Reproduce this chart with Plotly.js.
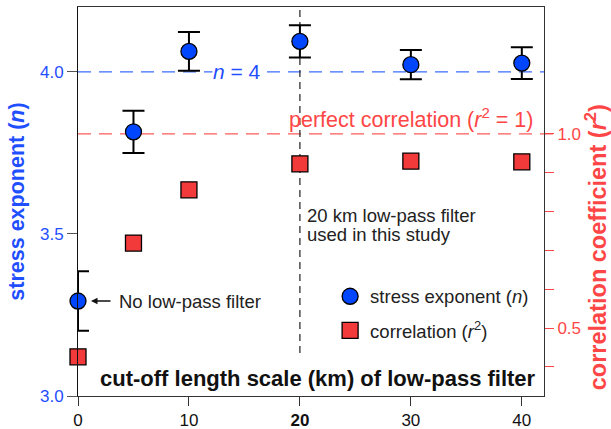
<!DOCTYPE html>
<html><head><meta charset="utf-8">
<script src="https://cdn.plot.ly/plotly-3.0.1.min.js"></script>
<style>html,body{margin:0;padding:0;background:#fff}</style>
</head><body><div id="chart" style="width:611px;height:429px"></div>
<script>
const cutoff = [0, 5, 10, 20, 30, 40];
const stressExponent = [3.293, 3.815, 4.063, 4.094, 4.022, 4.027];
const stressError = [0.092, 0.065, 0.06, 0.05, 0.045, 0.049];
const correlation = [0.426, 0.719, 0.856, 0.923, 0.93, 0.928];
const xTickVals = [0, 10, 20, 30, 40];
const xTickText = ['0', '10', '<b>20</b>', '30', '40'];
const yTickVals = [3.0, 3.5, 4.0];
const y2TickVals = [0.4, 0.5, 0.6, 0.7, 0.8, 0.9, 1.0];
const y2TickText = ['', '0.5', '', '', '', '', '1.0'];

const FONT = 'Liberation Sans, Arial, sans-serif';
const BLUE = '#1f4fff';
const RED = '#ff4646';

const traces = [
  {
    x: cutoff, y: correlation, yaxis: 'y2', type: 'scatter', mode: 'markers',
    name: 'correlation (<i>r</i><sup>2</sup>)', legendgroup: 'b', legendrank: 2,
    marker: {symbol: 'square', size: 16, color: '#f23a3a', line: {color: '#000', width: 1.3}},
    cliponaxis: false
  },
  {
    x: cutoff, y: stressExponent, type: 'scatter', mode: 'markers',
    name: 'stress exponent (<i>n</i>)', legendgroup: 'a', legendrank: 1,
    marker: {symbol: 'circle', size: 16, color: '#0046ff', line: {color: '#000', width: 1.3}},
    error_y: {type: 'data', array: stressError, visible: true, color: '#000', thickness: 2, width: 11},
    cliponaxis: false
  }
];

const layout = {
  width: 611, height: 429,
  margin: {l: 78, r: 67, t: 7, b: 33},
  paper_bgcolor: '#fff', plot_bgcolor: '#fff',
  font: {family: FONT, size: 15, color: '#222'},
  showlegend: true,
  legend: {
    x: 0.541, y: 0.304, xanchor: 'left', yanchor: 'top',
    font: {family: FONT, size: 18.5, color: '#222'},
    traceorder: 'grouped', tracegroupgap: 7, bgcolor: 'rgba(0,0,0,0)'
  },
  xaxis: {
    range: [0, 42], tickvals: xTickVals, ticktext: xTickText,
    ticks: 'outside', ticklen: 9, tickwidth: 1, tickcolor: '#333',
    tickfont: {family: FONT, size: 17, color: '#111'},
    showline: true, linecolor: '#333', linewidth: 1, mirror: true,
    showgrid: false, zeroline: false
  },
  yaxis: {
    range: [3.0, 4.2], tickvals: yTickVals, tickformat: '.1f',
    ticks: 'outside', ticklen: 10, tickwidth: 1, tickcolor: '#555',
    tickfont: {family: FONT, size: 17, color: BLUE},
    showline: true, linecolor: '#111', linewidth: 1, mirror: true,
    showgrid: false, zeroline: false,
    title: {text: '<b>stress exponent (<i>n</i>)</b>', font: {family: FONT, size: 21.5, color: BLUE}, standoff: 9}
  },
  yaxis2: {
    overlaying: 'y', side: 'right',
    range: [0.325, 1.327], tickvals: y2TickVals, ticktext: y2TickText,
    ticks: 'outside', ticklen: 9, tickwidth: 1, tickcolor: RED,
    tickfont: {family: FONT, size: 17, color: RED},
    showline: true, linecolor: '#333', linewidth: 1,
    showgrid: false, zeroline: false
  },
  shapes: [
    {type: 'line', xref: 'paper', yref: 'y', x0: 0, x1: 1, y0: 4.0, y1: 4.0,
     line: {color: '#3a6dff', width: 1.2, dash: '13px,8px'}, layer: 'below'},
    {type: 'line', xref: 'paper', yref: 'y2', x0: 0, x1: 1.028, y0: 1.0, y1: 1.0,
     line: {color: '#ff5a5a', width: 1.2, dash: '13px,8px'}, layer: 'below'},
    {type: 'line', xref: 'x', yref: 'y', x0: 20, x1: 20, y0: 3.133, y1: 4.2,
     line: {color: '#222', width: 1.2, dash: '7px,5px'}, layer: 'below'}
  ],
  annotations: [
    {xref: 'paper', yref: 'paper', x: 1.112, y: 0.383, xanchor: 'center', yanchor: 'middle', textangle: -90,
     text: '<b>correlation coefficient (<i>r</i><sup>2</sup>)</b>', showarrow: false,
     font: {family: FONT, size: 23.5, color: RED}},
    {xref: 'x', yref: 'y', x: 14.35, y: 4.0, text: '<i>n</i> = 4', showarrow: false,
     font: {family: FONT, size: 21, color: BLUE}, bgcolor: '#fff', borderpad: 0},
    {xref: 'paper', yref: 'y2', x: 1, y: 1.0, xanchor: 'right', yanchor: 'bottom', xshift: -9, yshift: 0,
     text: 'perfect correlation (<i>r</i><sup>2</sup> = 1)', showarrow: false,
     font: {family: FONT, size: 21.5, color: RED}},
    {xref: 'x', yref: 'paper', x: 20, y: 0.465, xanchor: 'left', yanchor: 'middle', xshift: 5,
     text: '20 km low-pass filter', showarrow: false,
     font: {family: FONT, size: 18.5, color: '#222'}},
    {xref: 'x', yref: 'paper', x: 20, y: 0.414, xanchor: 'left', yanchor: 'middle', xshift: 5,
     text: 'used in this study', showarrow: false,
     font: {family: FONT, size: 18.5, color: '#222'}},
    {xref: 'x', yref: 'y', x: 0, y: stressExponent[0], xanchor: 'left', yanchor: 'middle', xshift: 39,
     text: 'No low-pass filter', showarrow: false, font: {family: FONT, size: 18.5, color: '#222'}},
    {xref: 'x', yref: 'y', x: 0, y: stressExponent[0], text: '', showarrow: true,
     ax: 34, ay: 0, arrowhead: 2, arrowsize: 1, arrowwidth: 1.3, arrowcolor: '#111', standoff: 13},
    {xref: 'paper', yref: 'paper', x: 1, y: 0, xanchor: 'right', yanchor: 'bottom', xshift: -6, yshift: 3,
     text: '<b>cut-off length scale (km) of low-pass filter</b>', showarrow: false,
     font: {family: FONT, size: 22, color: '#111'}}
  ]
};

Plotly.newPlot('chart', traces, layout, {displayModeBar: false, staticPlot: true});
</script></body></html>
